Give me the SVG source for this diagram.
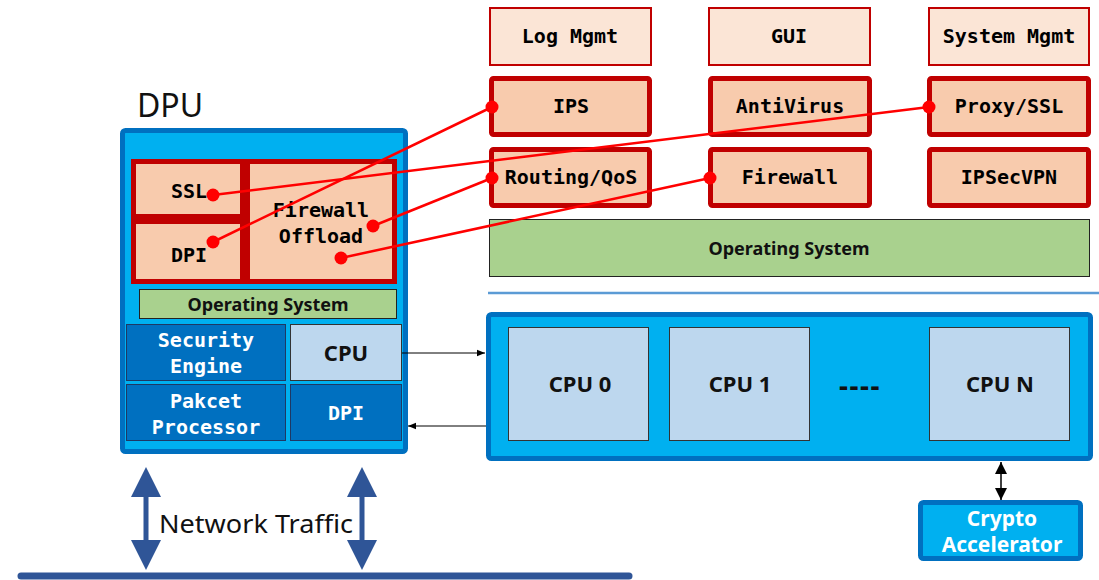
<svg xmlns="http://www.w3.org/2000/svg" width="1099" height="580" viewBox="0 0 1099 580">
<style>
.mono{font-family:"DejaVu Sans Mono","Liberation Mono",monospace;font-weight:bold;font-size:20px;text-anchor:middle}
.sans{font-family:"Noto Sans","Open Sans",sans-serif;text-anchor:middle}
.light{fill:#FBE5D6;stroke:#C00000;stroke-width:2}
.app{fill:#F8CBAD;stroke:#C00000;stroke-width:5}
.os{fill:#A9D18E;stroke:#222;stroke-width:1}
.dark{fill:#0070C0;stroke:#1F3864;stroke-width:1}
.cpu{fill:#BDD7EE;stroke:#333;stroke-width:1}
.frame{fill:#00B0F0;stroke:#0070C0;stroke-width:5}
.red{stroke:#FF0000;stroke-width:2.5;fill:none}
.dot{fill:#FF0000}
.net{fill:#2F5597}
.ostxt{font-size:18px;font-weight:bold;fill:#111}
.cputxt{font-size:22px;font-weight:bold;fill:#111}
</style>
<defs>
<marker id="ah" viewBox="0 0 10 10" refX="10" refY="5" markerWidth="8" markerHeight="8" markerUnits="userSpaceOnUse" orient="auto-start-reverse"><path d="M0,1 L10,5 L0,9 Z" fill="#000"/></marker>
<marker id="ah2" viewBox="0 0 10 10" refX="10" refY="5" markerWidth="12" markerHeight="12" markerUnits="userSpaceOnUse" orient="auto-start-reverse"><path d="M0,0 L10,5 L0,10 Z" fill="#000"/></marker>
</defs>

<text x="137" y="117" class="sans" style="text-anchor:start;font-size:32px" fill="#111">DPU</text>

<g id="dpu">
<rect x="122.5" y="130.5" width="283" height="321" rx="3" class="frame"/>
</g>
<g id="dpu-ssl"><rect x="133.5" y="161.5" width="109" height="55" class="app"/><text x="189" y="198" class="mono">SSL</text></g>
<g id="dpu-dpi"><rect x="133.5" y="221.5" width="109" height="60" class="app"/><text x="189" y="262" class="mono">DPI</text></g>
<g id="dpu-fw"><rect x="247.5" y="161.5" width="147" height="120" class="app"/><text x="321" y="217" class="mono">Firewall</text><text x="321" y="243" class="mono">Offload</text></g>
<g id="dpu-os"><rect x="139.5" y="289.5" width="257" height="29" class="os"/><text x="268" y="311" class="sans ostxt">Operating System</text></g>
<g id="dpu-se"><rect x="126.5" y="324.5" width="159" height="56" class="dark"/><text x="206" y="347" class="mono" fill="#fff">Security</text><text x="206" y="373" class="mono" fill="#fff">Engine</text></g>
<g id="dpu-cpu"><rect x="290.5" y="324.5" width="111" height="56" class="cpu"/><text x="346" y="361" class="sans" style="font-size:22px;font-weight:bold" fill="#111">CPU</text></g>
<g id="dpu-pp"><rect x="126.5" y="384.5" width="159" height="56" class="dark"/><text x="206" y="408" class="mono" fill="#fff">Pakcet</text><text x="206" y="434" class="mono" fill="#fff">Processor</text></g>
<g id="dpu-dpi2"><rect x="290.5" y="384.5" width="111" height="56" class="dark"/><text x="346" y="420" class="mono" fill="#fff">DPI</text></g>

<g id="log"><rect x="490" y="8" width="161" height="57" class="light"/><text x="570" y="43" class="mono">Log Mgmt</text></g>
<g id="gui"><rect x="709" y="8" width="161" height="57" class="light"/><text x="789" y="43" class="mono">GUI</text></g>
<g id="sysmgmt"><rect x="929" y="8" width="160" height="57" class="light"/><text x="1009" y="43" class="mono">System Mgmt</text></g>
<g id="ips"><rect x="491.5" y="78.5" width="158" height="56" rx="2" class="app"/><text x="571" y="113" class="mono">IPS</text></g>
<g id="av"><rect x="710.5" y="78.5" width="159" height="56" rx="2" class="app"/><text x="790" y="113" class="mono">AntiVirus</text></g>
<g id="proxy"><rect x="929.5" y="78.5" width="159" height="56" rx="2" class="app"/><text x="1009" y="113" class="mono">Proxy/SSL</text></g>
<g id="routing"><rect x="491.5" y="149.5" width="158" height="56" rx="2" class="app"/><text x="571" y="184" class="mono">Routing/QoS</text></g>
<g id="fw"><rect x="710.5" y="149.5" width="159" height="56" rx="2" class="app"/><text x="790" y="184" class="mono">Firewall</text></g>
<g id="ipsec"><rect x="929.5" y="149.5" width="159" height="56" rx="2" class="app"/><text x="1009" y="184" class="mono">IPSecVPN</text></g>
<g id="host-os"><rect x="489.5" y="219.5" width="600" height="57" class="os"/><text x="789" y="255" class="sans ostxt">Operating System</text></g>

<line x1="488" y1="293" x2="1099" y2="293" stroke="#5B9BD5" stroke-width="2.5"/>

<g id="cpus">
<rect x="488.5" y="314.5" width="602" height="144" rx="3" class="frame"/>
<g id="cpu0"><rect x="508.5" y="327.5" width="140" height="113" class="cpu"/><text x="580" y="392" class="sans cputxt">CPU 0</text></g>
<g id="cpu1"><rect x="669.5" y="327.5" width="140" height="113" class="cpu"/><text x="740" y="392" class="sans cputxt">CPU 1</text></g>
<g id="cpun"><rect x="929.5" y="327.5" width="140" height="113" class="cpu"/><text x="1000" y="392" class="sans cputxt">CPU N</text></g>
<text x="839" y="396" class="sans" style="text-anchor:start;font-size:28px;font-weight:bold;letter-spacing:1.5px" fill="#111">----</text>
</g>

<g id="crypto"><rect x="920.5" y="502.5" width="160" height="56" rx="3" class="frame"/><text x="1002" y="526" class="sans" style="font-size:21px;font-weight:bold" fill="#fff">Crypto</text><text x="1002" y="552" class="sans" style="font-size:21px;font-weight:bold" fill="#fff">Accelerator</text></g>

<g id="network">
<line x1="21" y1="576" x2="629" y2="576" stroke="#2F5597" stroke-width="7" stroke-linecap="round"/>
<text x="159" y="533" class="sans" style="text-anchor:start;font-size:25px" fill="#111" textLength="194" lengthAdjust="spacingAndGlyphs">Network Traffic</text>
</g>

<g id="connectors">
<line x1="402" y1="353" x2="485" y2="353" stroke="#000" stroke-width="1" marker-end="url(#ah)"/>
<line x1="486" y1="426" x2="408" y2="426" stroke="#000" stroke-width="1" marker-end="url(#ah)"/>
<line x1="1001" y1="462" x2="1001" y2="500" stroke="#000" stroke-width="1.5" marker-start="url(#ah2)" marker-end="url(#ah2)"/>
<polygon class="net" points="146,467 161,497 148.5,497 148.5,540 161,540 146,570 131,540 143.5,540 143.5,497 131,497"/>
<polygon class="net" points="362,467 377,497 364.5,497 364.5,540 377,540 362,570 347,540 359.5,540 359.5,497 347,497"/>
<line x1="492" y1="107" x2="213" y2="242" class="red"/>
<line x1="929" y1="107" x2="213" y2="195" class="red"/>
<line x1="492" y1="178" x2="373" y2="226" class="red"/>
<line x1="710" y1="178" x2="341" y2="258" class="red"/>
<circle cx="492" cy="107" r="6.5" class="dot"/>
<circle cx="213" cy="242" r="6.5" class="dot"/>
<circle cx="929" cy="107" r="6.5" class="dot"/>
<circle cx="213" cy="195" r="6.5" class="dot"/>
<circle cx="492" cy="178" r="6.5" class="dot"/>
<circle cx="373" cy="226" r="6.5" class="dot"/>
<circle cx="710" cy="178" r="6.5" class="dot"/>
<circle cx="341" cy="258" r="6.5" class="dot"/>
</g>
</svg>
